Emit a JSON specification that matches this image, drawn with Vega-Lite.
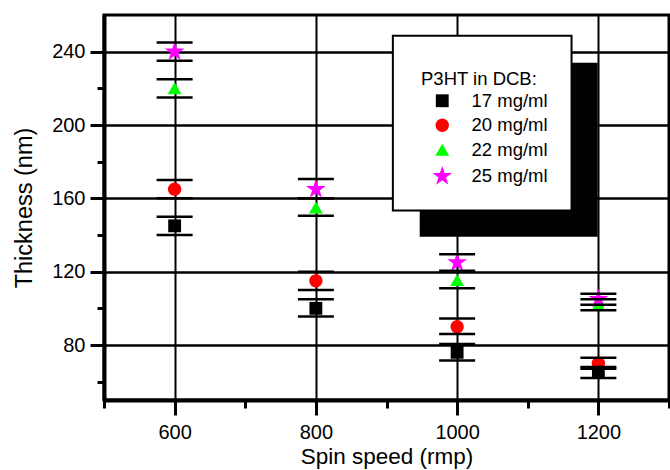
{
  "$schema": "https://vega.github.io/schema/vega-lite/v6.json",
  "autosize": {"type": "none"},
  "padding": {"left": 104, "top": 15, "right": 1, "bottom": 70},
  "width": 565,
  "height": 385,
  "background": "white",
  "data": {
    "values": [
      {"spin": 600, "conc": "17 mg/ml", "t": 145, "lo": 140, "hi": 150},
      {"spin": 800, "conc": "17 mg/ml", "t": 100, "lo": 95.5, "hi": 105},
      {"spin": 1000, "conc": "17 mg/ml", "t": 76, "lo": 71.5, "hi": 80.5},
      {"spin": 1200, "conc": "17 mg/ml", "t": 65, "lo": 62, "hi": 68},
      {"spin": 600, "conc": "20 mg/ml", "t": 165, "lo": 160, "hi": 170},
      {"spin": 800, "conc": "20 mg/ml", "t": 115, "lo": 110, "hi": 120},
      {"spin": 1000, "conc": "20 mg/ml", "t": 90, "lo": 86, "hi": 94.5},
      {"spin": 1200, "conc": "20 mg/ml", "t": 70, "lo": 67, "hi": 73},
      {"spin": 600, "conc": "22 mg/ml", "t": 220, "lo": 215, "hi": 225},
      {"spin": 800, "conc": "22 mg/ml", "t": 155, "lo": 150.5, "hi": 160},
      {"spin": 1000, "conc": "22 mg/ml", "t": 115.5, "lo": 111, "hi": 120},
      {"spin": 1200, "conc": "22 mg/ml", "t": 102, "lo": 99, "hi": 105},
      {"spin": 600, "conc": "25 mg/ml", "t": 240, "lo": 235, "hi": 245},
      {"spin": 800, "conc": "25 mg/ml", "t": 165, "lo": 160, "hi": 170.5},
      {"spin": 1000, "conc": "25 mg/ml", "t": 125, "lo": 120.5, "hi": 129.5},
      {"spin": 1200, "conc": "25 mg/ml", "t": 105, "lo": 102, "hi": 108}
    ]
  },
  "layer": [
    {
      "data": {"values": [{}]},
      "mark": {"type": "rect", "fill": "black"},
      "encoding": {
        "x": {"datum": 947, "type": "quantitative"},
        "x2": {"datum": 1199},
        "y": {"datum": 234, "type": "quantitative"},
        "y2": {"datum": 139}
      }
    },
    {
      "data": {"values": [{}]},
      "mark": {"type": "rect", "fill": "white", "stroke": "black", "strokeWidth": 2},
      "encoding": {
        "x": {"datum": 909, "type": "quantitative"},
        "x2": {"datum": 1162},
        "y": {"datum": 248.7, "type": "quantitative"},
        "y2": {"datum": 153.3}
      }
    },
    {
      "mark": {"type": "point", "filled": true, "opacity": 1, "strokeWidth": 0},
      "encoding": {
        "x": {
          "field": "spin", "type": "quantitative",
          "scale": {"domain": [500, 1300], "nice": false, "zero": false},
          "axis": {
            "title": "Spin speed (rmp)",
            "grid": true,
            "values": [500, 600, 700, 800, 900, 1000, 1100, 1200, 1300],
            "tickSize": {"condition": {"test": "datum.value % 200 === 0", "value": 15}, "value": 8},
            "gridColor": {"condition": {"test": "datum.value % 200 === 0", "value": "black"}, "value": "transparent"},
            "gridWidth": 2,
            "labelExpr": "datum.value % 200 === 0 ? '' + datum.value : ''",
            "labelPadding": 7,
            "titlePadding": 3,
            "titleFontSize": 22.5,
            "labelFlush": false,
            "labelOverlap": false
          }
        },
        "y": {
          "field": "t", "type": "quantitative",
          "scale": {"domain": [50, 260], "nice": false, "zero": false},
          "axis": {
            "title": "Thickness (nm)",
            "grid": true,
            "values": [60, 80, 100, 120, 140, 160, 180, 200, 220, 240],
            "tickSize": {"condition": {"test": "datum.value % 40 === 0", "value": 14}, "value": 7},
            "gridColor": {"condition": {"test": "datum.value % 40 === 0", "value": "black"}, "value": "transparent"},
            "gridWidth": 2.5,
            "labelExpr": "datum.value % 40 === 0 ? '' + datum.value : ''",
            "labelPadding": 5,
            "titlePadding": 15,
            "titleFontSize": 23.5,
            "labelOverlap": false
          }
        },
        "color": {
          "field": "conc", "type": "nominal",
          "scale": {"domain": ["17 mg/ml", "20 mg/ml", "22 mg/ml", "25 mg/ml"], "range": ["#000000", "#ff0000", "#00ff00", "#ff00ff"]},
          "legend": {"title": "P3HT in DCB:"}
        },
        "shape": {
          "field": "conc", "type": "nominal",
          "scale": {"domain": ["17 mg/ml", "20 mg/ml", "22 mg/ml", "25 mg/ml"], "range": ["square", "circle", "triangle-up", "M0,-1.45L0.326,-0.448L1.379,-0.448L0.526,0.171L0.853,1.173L0,0.554L-0.853,1.173L-0.526,0.171L-1.379,-0.448L-0.326,-0.448Z"]},
          "legend": {"title": "P3HT in DCB:"}
        },
        "size": {
          "field": "conc", "type": "nominal",
          "scale": {"domain": ["17 mg/ml", "20 mg/ml", "22 mg/ml", "25 mg/ml"], "range": [165, 205, 330, 240]},
          "legend": {"title": "P3HT in DCB:"}
        }
      }
    },
    {
      "mark": {"type": "tick", "orient": "horizontal", "size": 36, "thickness": 2.5, "color": "black", "opacity": 1},
      "encoding": {
        "x": {"field": "spin", "type": "quantitative"},
        "y": {"field": "lo", "type": "quantitative"}
      }
    },
    {
      "mark": {"type": "tick", "orient": "horizontal", "size": 36, "thickness": 2.5, "color": "black", "opacity": 1},
      "encoding": {
        "x": {"field": "spin", "type": "quantitative"},
        "y": {"field": "hi", "type": "quantitative"}
      }
    }
  ],
  "config": {
    "font": "Liberation Sans",
    "view": {"stroke": "black", "strokeWidth": 3},
    "axis": {
      "domainColor": "black", "domainWidth": 4,
      "tickColor": "black", "tickWidth": 3,
      "gridOpacity": 1,
      "labelColor": "black", "labelFont": "Liberation Sans", "labelFontSize": 20,
      "titleColor": "black", "titleFont": "Liberation Sans", "titleFontWeight": "normal"
    },
    "legend": {
      "orient": "none", "legendX": 317, "legendY": 55,
      "padding": 0,
      "titleFont": "Liberation Sans", "titleFontSize": 18.5, "titleFontWeight": "normal", "titleColor": "black", "titlePadding": 3,
      "labelFont": "Liberation Sans", "labelFontSize": 18.5, "labelColor": "black",
      "symbolOffset": 12, "labelOffset": 20, "rowPadding": 5.5,
      "symbolStrokeWidth": 0
    }
  }
}
